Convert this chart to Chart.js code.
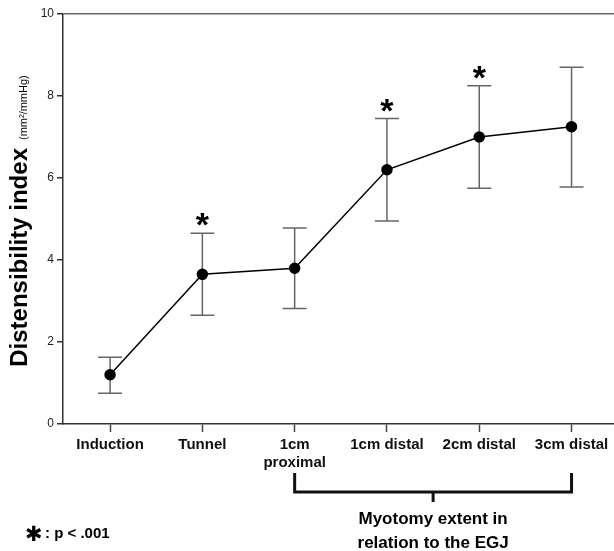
<!DOCTYPE html>
<html>
<head>
<meta charset="utf-8">
<script src="https://cdn.jsdelivr.net/npm/chart.js@4"></script>
<style>
  body { margin: 0; background: #fff; }
  #wrap { width: 614px; height: 551px; }
</style>
</head>
<body>
<div id="wrap"><canvas id="distChart" width="614" height="551"></canvas></div>
<script>
const categories = ["Induction", "Tunnel", "1cm proximal", "1cm distal", "2cm distal", "3cm distal"];
const tickLabels = [["Induction"], ["Tunnel"], ["1cm", "proximal"], ["1cm distal"], ["2cm distal"], ["3cm distal"]];
const means = [1.2, 3.65, 3.8, 6.2, 7.0, 7.25];
const lower = [0.75, 2.65, 2.82, 4.95, 5.75, 5.78];
const upper = [1.63, 4.65, 4.78, 7.45, 8.25, 8.7];
const significant = [false, true, false, true, true, false];
const yTicks = [0, 2, 4, 6, 8, 10];
const myotomyGroup = [2, 5];  // first and last category under the bracket

const FONT = "'Liberation Sans', Arial, Helvetica, sans-serif";
Chart.defaults.font.family = FONT;
Chart.defaults.color = "#222";

// error bars, drawn under the points
const errorBars = {
  id: "errorBars",
  beforeDatasetsDraw(chart) {
    const { ctx, scales: { x, y } } = chart;
    ctx.save();
    ctx.strokeStyle = "#666";
    ctx.lineWidth = 1.5;
    categories.forEach((c, i) => {
      const px = x.getPixelForValue(i);
      const lo = y.getPixelForValue(lower[i]);
      const hi = y.getPixelForValue(upper[i]);
      ctx.beginPath();
      ctx.moveTo(px, lo); ctx.lineTo(px, hi);
      ctx.moveTo(px - 12, lo); ctx.lineTo(px + 12, lo);
      ctx.moveTo(px - 12, hi); ctx.lineTo(px + 12, hi);
      ctx.stroke();
    });
    ctx.restore();
  }
};

// y title, stars, bracket and footnote
const extras = {
  id: "extras",
  afterDraw(chart) {
    const { ctx, chartArea, scales: { x, y } } = chart;
    ctx.save();

    // y title with small units
    const big = "Distensibility index";
    const small = "(mm\u00B2/mmHg)";
    ctx.font = "bold 24px " + FONT;
    const w1 = ctx.measureText(big).width;
    ctx.font = "11px " + FONT;
    const w2 = ctx.measureText(small).width;
    const gap = 8;
    const total = w1 + gap + w2;
    ctx.translate(27, (chartArea.top + chartArea.bottom) / 2 + 2);
    ctx.rotate(-Math.PI / 2);
    ctx.fillStyle = "#000";
    ctx.textBaseline = "alphabetic";
    ctx.textAlign = "left";
    ctx.font = "bold 24px " + FONT;
    ctx.fillText(big, -total / 2, 0);
    ctx.font = "11px " + FONT;
    ctx.fillText(small, -total / 2 + w1 + gap, 0);
    ctx.setTransform(1, 0, 0, 1, 0, 0);

    // significance stars
    ctx.font = "bold 34px " + FONT;
    ctx.textAlign = "center";
    significant.forEach((s, i) => {
      if (!s) return;
      ctx.fillText("*", x.getPixelForValue(i), y.getPixelForValue(upper[i]) + 3);
    });

    // bracket under the myotomy categories
    const bx1 = x.getPixelForValue(myotomyGroup[0]);
    const bx2 = x.getPixelForValue(myotomyGroup[1]);
    const by = chartArea.bottom + 68;
    const mid = (bx1 + bx2) / 2;
    ctx.strokeStyle = "#111";
    ctx.lineWidth = 3;
    ctx.lineCap = "butt";
    ctx.beginPath();
    ctx.moveTo(bx1, chartArea.bottom + 49);
    ctx.lineTo(bx1, by);
    ctx.lineTo(bx2, by);
    ctx.lineTo(bx2, chartArea.bottom + 49);
    ctx.moveTo(mid, by);
    ctx.lineTo(mid, by + 10);
    ctx.stroke();

    ctx.font = "bold 17px " + FONT;
    ctx.textBaseline = "middle";
    ctx.fillText("Myotomy extent in", mid, chartArea.bottom + 95);
    ctx.fillText("relation to the EGJ", mid, chartArea.bottom + 119);

    // footnote
    ctx.textAlign = "left";
    ctx.font = "bold 21px 'DejaVu Sans', sans-serif";
    ctx.fillText("\u2731", 25, 536);
    ctx.font = "bold 15px " + FONT;
    ctx.fillText(": p < .001", 45, 534);

    ctx.restore();
  }
};

const data = {
  datasets: [{
    label: "Distensibility index",
    data: categories.map((c, i) => ({ x: i, y: means[i] })),
    borderColor: "#000",
    backgroundColor: "#000",
    borderWidth: 1.5,
    pointRadius: 5,
    pointHoverRadius: 5,
    tension: 0
  }]
};

const config = {
  type: "line",
  data: data,
  options: {
    responsive: false,
    animation: false,
    layout: { autoPadding: false, padding: { top: 14, right: 0, left: 0, bottom: 0 } },
    plugins: { legend: { display: false }, tooltip: { enabled: false } },
    scales: {
      x: {
        type: "linear",
        min: -0.51,
        max: 5.46,
        afterBuildTicks: (scale) => { scale.ticks = categories.map((c, i) => ({ value: i })); },
        afterFit: (scale) => {
          scale.height = 127;
          scale.paddingLeft = 0;
          scale.paddingRight = 0;
        },
        border: { color: "#333", width: 1.5 },
        grid: { drawOnChartArea: false, tickColor: "#444", tickLength: 8, tickWidth: 1.5 },
        ticks: {
          autoSkip: false,
          maxRotation: 0,
          padding: 4,
          color: "#111",
          font: { size: 15, weight: "bold" },
          callback: (v, idx) => tickLabels[idx]
        }
      },
      y: {
        min: 0,
        max: 10,
        afterBuildTicks: (scale) => { scale.ticks = yTicks.map(v => ({ value: v })); },
        afterFit: (scale) => { scale.width = 63; },
        border: { color: "#333", width: 1.5 },
        grid: {
          drawOnChartArea: true,
          color: (c) => (c.tick && c.tick.value === 10 ? "#666" : "rgba(0,0,0,0)"),
          lineWidth: 1.5,
          tickColor: "#333",
          tickLength: 6
        },
        ticks: { padding: 3, color: "#222", font: { size: 12 } }
      }
    }
  },
  plugins: [errorBars, extras]
};

const distChart = new Chart(document.getElementById("distChart"), config);
</script>
</body>
</html>
